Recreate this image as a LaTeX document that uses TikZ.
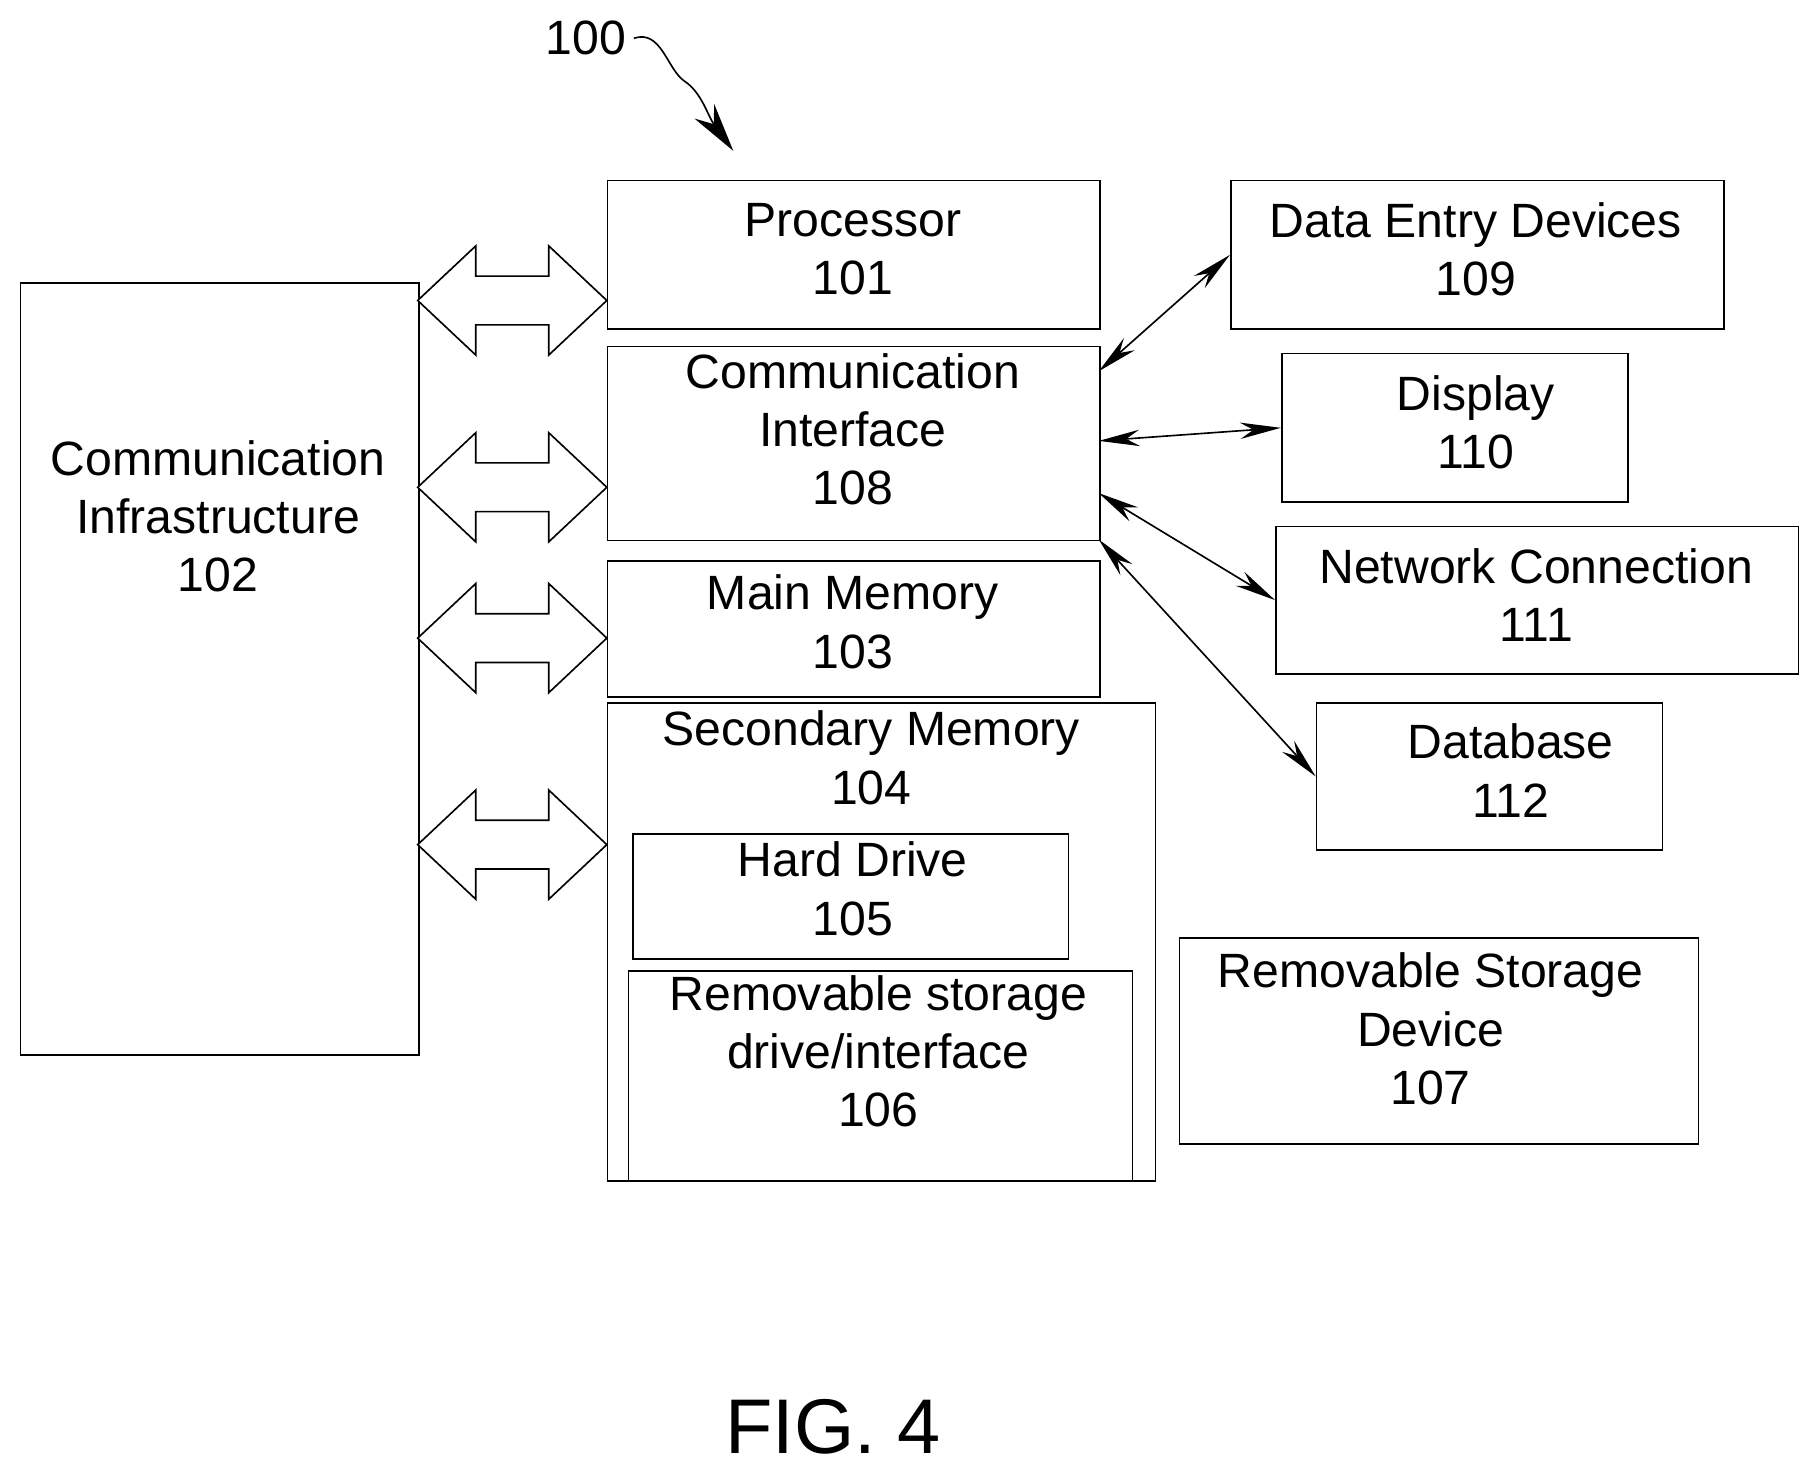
\documentclass[tikz,border=0pt]{standalone}
\usepackage{fontspec}
\setmainfont{Liberation Sans}
\usetikzlibrary{arrows.meta}

\tikzset{
  box/.style={draw, thin, rectangle, anchor=north west, inner sep=0pt},
  txt/.style={align=center, font=\fontsize{11.8}{14.3}\selectfont, inner sep=0pt},
  bus/.style={draw, thin, fill=white},
  link/.style={thin, {Stealth[length=10pt,width=4pt]}-{Stealth[length=10pt,width=4pt]}}
}

\begin{document}
\begin{tikzpicture}[x=0.01cm, y=-0.01cm]
      \useasboundingbox (0,0) rectangle (1560,1268);

      \node[box, minimum width=3.43cm, minimum height=6.65cm] (infra) at (17,243) {};
      \node[txt] (infrat) at (188,445) {Communication\\Infrastructure\\102};

      \node[box, minimum width=4.24cm, minimum height=1.28cm] (proc) at (523,155) {};
      \node[txt] (proct) at (735,215) {Processor\\101};
      \node[box, minimum width=4.24cm, minimum height=1.67cm] (ci) at (523,298) {};
      \node[txt] (cit) at (735,370) {Communication\\Interface\\108};
      \node[box, minimum width=4.24cm, minimum height=1.17cm] (mm) at (523,483) {};
      \node[txt] (mmt) at (735,536) {Main Memory\\103};
      \node[box, minimum width=4.72cm, minimum height=4.12cm] (sm) at (523,605) {};
      \node[txt] (smt) at (751,653) {Secondary Memory\\104};
      \node[box, minimum width=3.75cm, minimum height=1.08cm] (hd) at (545,718) {};
      \node[txt] (hdt) at (735,766) {Hard Drive\\105};
      \node[box, minimum width=4.34cm, minimum height=1.81cm] (rd) at (541,836) {};
      \node[txt] (rdt) at (757,906) {Removable storage\\drive/interface\\106};

      \node[box, minimum width=4.25cm, minimum height=1.28cm] (de) at (1060,155) {};
      \node[txt] (det) at (1272,215) {Data Entry Devices\\109};
      \node[box, minimum width=2.98cm, minimum height=1.28cm] (disp) at (1104,304) {};
      \node[txt] (dispt) at (1272,364) {Display\\110};
      \node[box, minimum width=4.50cm, minimum height=1.27cm] (net) at (1099,453) {};
      \node[txt] (nett) at (1324,513) {Network Connection\\111};
      \node[box, minimum width=2.98cm, minimum height=1.27cm] (db) at (1134,605) {};
      \node[txt] (dbt) at (1302,664) {Database\\112};
      \node[box, minimum width=4.47cm, minimum height=1.77cm] (rsd) at (1016,808) {};
      \node[txt] (rsdt) at (1233,887) {Removable Storage\\Device\\107};

      % bus arrows
      \foreach \c in {259,420,550,728}
        \draw[bus] (360,\c) -- (410,\c-47) -- (410,\c-21) -- (473,\c-21) -- (473,\c-47)
          -- (523,\c) -- (473,\c+47) -- (473,\c+21) -- (410,\c+21) -- (410,\c+47) -- cycle;

      % links
      \coordinate (c1) at (947,320);
      \coordinate (c2) at (947,380);
      \coordinate (c3) at (947,425);
      \coordinate (c4) at (947,465);
      \draw[link] (c1) -- (de.west);
      \draw[link] (c2) -- (disp.west);
      \draw[link] (c3) -- (net.west);
      \draw[link] (c4) -- (db.west);

      \node[txt] (num) at (505,33) {100};
      \coordinate (tip) at (632,130);
      \draw[thin, -{Stealth[length=12pt,width=6pt]}] (num.east) ++(6,0) .. controls (570,25) and (575,60) .. (590,70)
        .. controls (605,80) and (610,100) .. (tip);

      \node[font=\fontsize{19}{23}\selectfont] (fig) at (718,1230) {FIG. 4};
    \end{tikzpicture}
\end{document}
